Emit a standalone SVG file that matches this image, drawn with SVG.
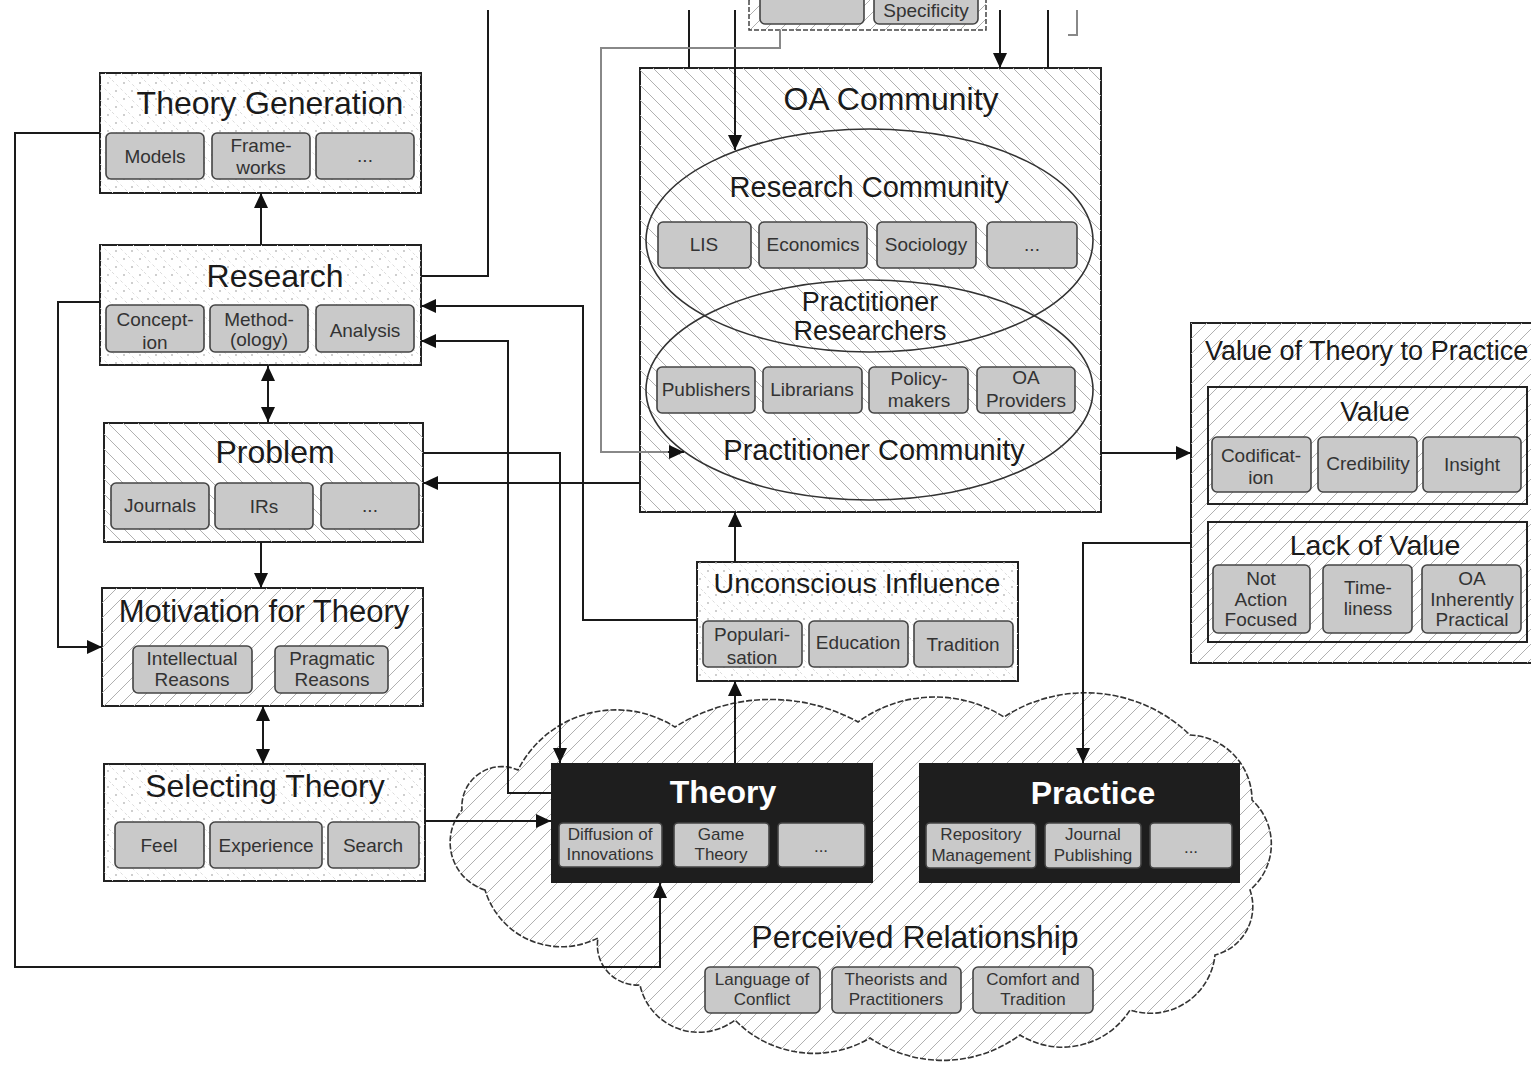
<svg xmlns="http://www.w3.org/2000/svg" width="1531" height="1065" viewBox="0 0 1531 1065">
<defs>
<pattern id="hb" patternUnits="userSpaceOnUse" width="15" height="15"><path d="M-1,14 l2,2 M0,0 l15,15 M14,-1 l2,2" stroke="#b0b0b0" stroke-width="1"/></pattern>
<pattern id="hf" patternUnits="userSpaceOnUse" width="15" height="15"><path d="M-1,1 l2,-2 M0,15 l15,-15 M14,16 l2,-2" stroke="#b0b0b0" stroke-width="1"/></pattern>
<pattern id="dt" patternUnits="userSpaceOnUse" width="16" height="16"><path d="M0,0 l16,16" stroke="#dcdcdc" stroke-width="1" stroke-dasharray="3 3"/><circle cx="4" cy="11" r="0.9" fill="#b8b8b8"/><circle cx="12" cy="3" r="0.9" fill="#b8b8b8"/></pattern>
<marker id="ah" markerUnits="userSpaceOnUse" markerWidth="16" markerHeight="14" refX="15" refY="7" orient="auto-start-reverse"><path d="M0,0 L15,7 L0,14 Z" fill="#111"/></marker>
</defs>
<style>
.box{stroke:#222;stroke-width:2}
.sub{fill:#c9c9c9;stroke:#444;stroke-width:1.6}
.t{font-family:"Liberation Sans",Arial,sans-serif;fill:#1a1a1a;text-anchor:middle}
.s{font-family:"Liberation Sans",Arial,sans-serif;font-size:19px;fill:#333;text-anchor:middle}
.n{font-family:"Liberation Sans",Arial,sans-serif;font-size:17px;fill:#333;text-anchor:middle}
.w{font-family:"Liberation Sans",Arial,sans-serif;font-weight:bold;fill:#fff;text-anchor:middle;font-size:32px}
.c{fill:none;stroke:#1a1a1a;stroke-width:2}
.g{fill:none;stroke:#888;stroke-width:2}
</style>
<rect width="1531" height="1065" fill="#fff"/>

<g id="top-partial">
<rect x="749" y="-10" width="237" height="40" fill="url(#hf)" stroke="#444" stroke-width="1.5" stroke-dasharray="5 2"/>
<rect x="760" y="-20" width="104" height="44" rx="5" class="sub"/>
<rect x="874" y="-20" width="104" height="44" rx="5" class="sub"/>
<text class="s" x="926" y="17">Specificity</text>
<path d="M1068,35 H1077 V10" fill="none" stroke="#888" stroke-width="2"/>
</g>

<g id="theory-generation">
<rect x="100" y="73" width="321" height="120" fill="#fff" class="box"/>
<rect x="100" y="73" width="321" height="120" fill="url(#dt)"/>
<text class="t" x="270" y="114" font-size="32">Theory Generation</text>
<rect x="106" y="133" width="98" height="46" rx="5" class="sub"/><text class="s" x="155" y="163">Models</text>
<rect x="212" y="133" width="98" height="46" rx="5" class="sub"/><text class="s" x="261" y="152">Frame-</text><text class="s" x="261" y="174">works</text>
<rect x="316" y="133" width="98" height="46" rx="5" class="sub"/><text class="s" x="365" y="162">...</text>
</g>

<g id="research">
<rect x="100" y="245" width="321" height="120" fill="#fff" class="box"/>
<rect x="100" y="245" width="321" height="120" fill="url(#dt)"/>
<text class="t" x="275" y="287" font-size="32">Research</text>
<rect x="106" y="305" width="98" height="47" rx="5" class="sub"/><text class="s" x="155" y="326">Concept-</text><text class="s" x="155" y="349">ion</text>
<rect x="210" y="305" width="98" height="47" rx="5" class="sub"/><text class="s" x="259" y="326">Method-</text><text class="s" x="259" y="346">(ology)</text>
<rect x="316" y="305" width="98" height="47" rx="5" class="sub"/><text class="s" x="365" y="337">Analysis</text>
</g>

<g id="problem">
<rect x="104" y="423" width="319" height="119" fill="#fff" class="box"/>
<rect x="104" y="423" width="319" height="119" fill="url(#hb)"/>
<text class="t" x="275" y="463" font-size="32">Problem</text>
<rect x="111" y="483" width="98" height="46" rx="5" class="sub"/><text class="s" x="160" y="512">Journals</text>
<rect x="215" y="483" width="98" height="46" rx="5" class="sub"/><text class="s" x="264" y="513">IRs</text>
<rect x="321" y="483" width="98" height="46" rx="5" class="sub"/><text class="s" x="370" y="512">...</text>
</g>

<g id="motivation">
<rect x="102" y="588" width="321" height="118" fill="#fff" class="box"/>
<rect x="102" y="588" width="321" height="118" fill="url(#hf)"/>
<text class="t" x="264" y="622" font-size="31">Motivation for Theory</text>
<rect x="133" y="646" width="119" height="47" rx="5" class="sub"/><text class="s" x="192" y="665">Intellectual</text><text class="s" x="192" y="686">Reasons</text>
<rect x="275" y="646" width="113" height="47" rx="5" class="sub"/><text class="s" x="332" y="665">Pragmatic</text><text class="s" x="332" y="686">Reasons</text>
</g>

<g id="selecting-theory">
<rect x="104" y="764" width="321" height="117" fill="#fff" class="box"/>
<rect x="104" y="764" width="321" height="117" fill="url(#dt)"/>
<text class="t" x="265" y="797" font-size="32">Selecting Theory</text>
<rect x="115" y="822" width="89" height="46" rx="5" class="sub"/><text class="s" x="159" y="852">Feel</text>
<rect x="210" y="822" width="112" height="46" rx="5" class="sub"/><text class="s" x="266" y="852">Experience</text>
<rect x="328" y="822" width="91" height="46" rx="5" class="sub"/><text class="s" x="373" y="852">Search</text>
</g>

<g id="oa-community">
<rect x="640" y="68" width="461" height="444" fill="#fff" class="box"/>
<rect x="640" y="68" width="461" height="444" fill="url(#hb)"/>
<text class="t" x="891" y="110" font-size="32">OA Community</text>
<ellipse cx="869.5" cy="240.5" rx="223.5" ry="111.5" fill="none" stroke="#333" stroke-width="1.6"/>
<ellipse cx="869.5" cy="390" rx="223.5" ry="110" fill="none" stroke="#333" stroke-width="1.6"/>
<text class="t" x="869" y="197" font-size="29">Research Community</text>
<rect x="658" y="222" width="93" height="46" rx="5" class="sub"/><text class="s" x="704" y="251">LIS</text>
<rect x="759" y="222" width="108" height="46" rx="5" class="sub"/><text class="s" x="813" y="251">Economics</text>
<rect x="877" y="222" width="99" height="46" rx="5" class="sub"/><text class="s" x="926" y="251">Sociology</text>
<rect x="987" y="222" width="90" height="46" rx="5" class="sub"/><text class="s" x="1032" y="251">...</text>
<text class="t" x="870" y="311" font-size="27">Practitioner</text>
<text class="t" x="870" y="340" font-size="27">Researchers</text>
<rect x="657" y="367" width="98" height="46" rx="5" class="sub"/><text class="s" x="706" y="396">Publishers</text>
<rect x="763" y="367" width="99" height="46" rx="5" class="sub"/><text class="s" x="812" y="396">Librarians</text>
<rect x="869" y="367" width="99" height="46" rx="5" class="sub"/><text class="s" x="919" y="385">Policy-</text><text class="s" x="919" y="407">makers</text>
<rect x="977" y="367" width="98" height="46" rx="5" class="sub"/><text class="s" x="1026" y="384">OA</text><text class="s" x="1026" y="407">Providers</text>
<text class="t" x="874" y="460" font-size="29">Practitioner Community</text>
</g>

<g id="value-of-theory">
<rect x="1191" y="323" width="350" height="340" fill="#fff" class="box"/>
<rect x="1191" y="323" width="350" height="340" fill="url(#hf)"/>
<text class="t" x="1205" y="360" font-size="27" style="text-anchor:start">Value of Theory to Practice</text>
<g id="value">
<rect x="1208" y="387" width="319" height="117" fill="url(#hf)" class="box"/>
<text class="t" x="1375" y="421" font-size="28">Value</text>
<rect x="1212" y="437" width="99" height="55" rx="5" class="sub"/><text class="s" x="1261" y="462">Codificat-</text><text class="s" x="1261" y="484">ion</text>
<rect x="1318" y="437" width="99" height="55" rx="5" class="sub"/><text class="s" x="1368" y="470">Credibility</text>
<rect x="1423" y="437" width="98" height="55" rx="5" class="sub"/><text class="s" x="1472" y="471">Insight</text>
</g>
<g id="lack-of-value">
<rect x="1208" y="522" width="319" height="120" fill="url(#hf)" class="box"/>
<text class="t" x="1375" y="555" font-size="28.5">Lack of Value</text>
<rect x="1213" y="565" width="97" height="68" rx="5" class="sub"/><text class="s" x="1261" y="585">Not</text><text class="s" x="1261" y="606">Action</text><text class="s" x="1261" y="626">Focused</text>
<rect x="1323" y="565" width="89" height="68" rx="5" class="sub"/><text class="s" x="1368" y="594">Time-</text><text class="s" x="1368" y="615">liness</text>
<rect x="1422" y="565" width="99" height="68" rx="5" class="sub"/><text class="s" x="1472" y="585">OA</text><text class="s" x="1472" y="606">Inherently</text><text class="s" x="1472" y="626">Practical</text>
</g>
</g>

<g id="unconscious-influence">
<rect x="697" y="562" width="321" height="119" fill="#fff" class="box"/>
<rect x="697" y="562" width="321" height="119" fill="url(#dt)"/>
<text class="t" x="857" y="593" font-size="28.5">Unconscious Influence</text>
<rect x="703" y="621" width="99" height="46" rx="5" class="sub"/><text class="s" x="752" y="641">Populari-</text><text class="s" x="752" y="664">sation</text>
<rect x="809" y="621" width="99" height="46" rx="5" class="sub"/><text class="s" x="858" y="649">Education</text>
<rect x="914" y="621" width="99" height="46" rx="5" class="sub"/><text class="s" x="963" y="651">Tradition</text>
</g>

<g id="perceived-relationship">
<path d="M485,890 A50,50 0 0 1 462,810 A40,40 0 0 1 518,770 A110,110 0 0 1 675,727 A180,180 0 0 1 858,722 A130,130 0 0 1 1004,717 A150,150 0 0 1 1190,735 A65,65 0 0 1 1252,800 A60,60 0 0 1 1250,890 A50,50 0 0 1 1215,955 A65,65 0 0 1 1130,1010 A80,80 0 0 1 1020,1035 A130,130 0 0 1 870,1038 A110,110 0 0 1 735,1020 A60,60 0 0 1 640,985 A40,40 0 0 1 598,938 A80,80 0 0 1 485,890 Z" fill="#fff" stroke="none"/>
<path d="M485,890 A50,50 0 0 1 462,810 A40,40 0 0 1 518,770 A110,110 0 0 1 675,727 A180,180 0 0 1 858,722 A130,130 0 0 1 1004,717 A150,150 0 0 1 1190,735 A65,65 0 0 1 1252,800 A60,60 0 0 1 1250,890 A50,50 0 0 1 1215,955 A65,65 0 0 1 1130,1010 A80,80 0 0 1 1020,1035 A130,130 0 0 1 870,1038 A110,110 0 0 1 735,1020 A60,60 0 0 1 640,985 A40,40 0 0 1 598,938 A80,80 0 0 1 485,890 Z" fill="url(#hf)" stroke="#333" stroke-width="1.6" stroke-dasharray="6 2"/>
<text class="t" x="915" y="948" font-size="32">Perceived Relationship</text>
<rect x="705" y="967" width="115" height="46" rx="5" class="sub"/><text class="n" x="762" y="985">Language of</text><text class="n" x="762" y="1005">Conflict</text>
<rect x="832" y="967" width="129" height="46" rx="5" class="sub"/><text class="n" x="896" y="985">Theorists and</text><text class="n" x="896" y="1005">Practitioners</text>
<rect x="973" y="967" width="120" height="46" rx="5" class="sub"/><text class="n" x="1033" y="985">Comfort and</text><text class="n" x="1033" y="1005">Tradition</text>
</g>

<g id="theory">
<rect x="551" y="763" width="322" height="120" fill="#1e1e1e"/>
<text class="w" x="723" y="803">Theory</text>
<rect x="559" y="823" width="103" height="44" rx="4" class="sub"/><text class="n" x="610" y="840">Diffusion of</text><text class="n" x="610" y="860">Innovations</text>
<rect x="674" y="823" width="95" height="44" rx="4" class="sub"/><text class="n" x="721" y="840">Game</text><text class="n" x="721" y="860">Theory</text>
<rect x="778" y="823" width="87" height="44" rx="4" class="sub"/><text class="n" x="821" y="852">...</text>
</g>

<g id="practice">
<rect x="919" y="763" width="321" height="120" fill="#1e1e1e"/>
<text class="w" x="1093" y="804">Practice</text>
<rect x="926" y="823" width="110" height="45" rx="4" class="sub"/><text class="n" x="981" y="840">Repository</text><text class="n" x="981" y="861">Management</text>
<rect x="1045" y="823" width="96" height="45" rx="4" class="sub"/><text class="n" x="1093" y="840">Journal</text><text class="n" x="1093" y="861">Publishing</text>
<rect x="1150" y="823" width="82" height="45" rx="4" class="sub"/><text class="n" x="1191" y="853">...</text>
</g>

<g id="connectors">
<path class="c" d="M261,245 V193" marker-end="url(#ah)"/>
<path class="c" d="M268,366 V422" marker-start="url(#ah)" marker-end="url(#ah)"/>
<path class="c" d="M261,542 V588" marker-end="url(#ah)"/>
<path class="c" d="M263,706 V764" marker-start="url(#ah)" marker-end="url(#ah)"/>
<path class="c" d="M100,133 H15 V967 H660 V883" marker-end="url(#ah)"/>
<path class="c" d="M100,302 H58 V647 H102" marker-end="url(#ah)"/>
<path class="c" d="M421,276 H488 V10"/>
<path class="c" d="M640,483 H423" marker-end="url(#ah)"/>
<path class="c" d="M697,620 H583 V306 H421" marker-end="url(#ah)"/>
<path class="c" d="M551,793 H508 V341 H421" marker-end="url(#ah)"/>
<path class="c" d="M423,453 H560 V763" marker-end="url(#ah)"/>
<path class="c" d="M425,821 H551" marker-end="url(#ah)"/>
<path class="c" d="M735,763 V681" marker-end="url(#ah)"/>
<path class="c" d="M735,562 V512" marker-end="url(#ah)"/>
<path class="c" d="M1101,453 H1191" marker-end="url(#ah)"/>
<path class="c" d="M1191,543 H1083 V763" marker-end="url(#ah)"/>
<path class="c" d="M689,10 V68"/>
<path class="c" d="M735,10 V150" marker-end="url(#ah)"/>
<path class="c" d="M1000,10 V68" marker-end="url(#ah)"/>
<path class="c" d="M1048,10 V68"/>
<path class="g" d="M780,30 V48 H601 V452 H670"/>
<path class="c" d="M668,452 H684" marker-end="url(#ah)"/>
</g>
</svg>
